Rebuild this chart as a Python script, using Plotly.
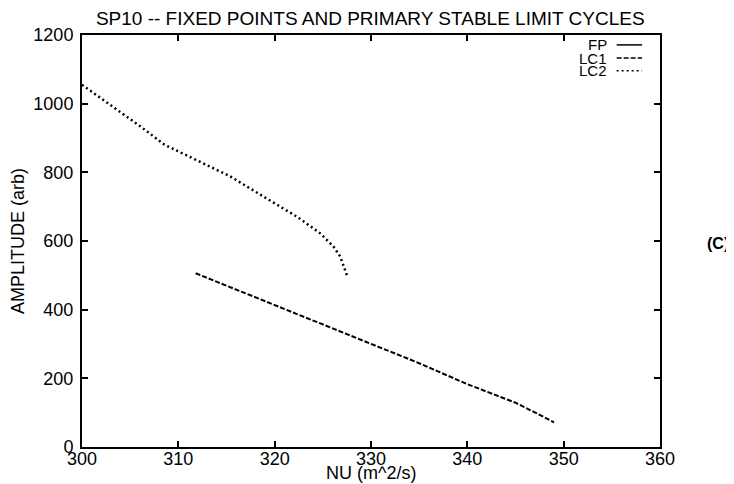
import plotly.graph_objects as go

# ---- data ----
fp_nu = []
fp_amp = []

lc1_nu = [311.8, 315, 320, 325, 330, 335, 340, 343, 345, 347, 349]
lc1_amp = [506, 470, 414, 357, 302, 244, 183, 151, 129, 101, 72]

lc2_nu = [300, 303, 306, 308.6, 310, 312, 315.4, 318.8, 322.3, 324.7, 326.1, 326.8, 327.3, 327.5]
lc2_amp = [1055, 995, 935, 880, 861, 834, 788, 730, 671, 623, 584, 555, 511, 500]

series_names = ["FP", "LC1", "LC2"]
x_ticks = [300, 310, 320, 330, 340, 350, 360]
y_ticks = [0, 200, 400, 600, 800, 1000, 1200]

FONT = "Liberation Sans, Arial, sans-serif"
dashes = {"FP": "solid", "LC1": "5px,2px", "LC2": "2px,3px"}
widths = {"FP": 1.5, "LC1": 2, "LC2": 2.5}

fig = go.Figure()
for name, xs, ys in [("FP", fp_nu, fp_amp), ("LC1", lc1_nu, lc1_amp), ("LC2", lc2_nu, lc2_amp)]:
    fig.add_trace(go.Scatter(x=xs, y=ys, mode="lines", name=name, showlegend=False,
                             line=dict(color="black", width=widths[name], dash=dashes[name])))

axis_common = dict(
    showline=True, linecolor="black", linewidth=2, mirror="ticks",
    ticks="inside", ticklen=6, tickwidth=1.5, tickcolor="black",
    showgrid=False, zeroline=False, automargin=False,
    tickfont=dict(family=FONT, size=18, color="black"),
)

# page body has an 8px margin, so the figure is 8px smaller than the window
fig.update_layout(
    width=726, height=476,
    margin=dict(l=74, r=74, t=27, b=37),
    paper_bgcolor="white", plot_bgcolor="white",
    title=dict(text="SP10 -- FIXED POINTS AND PRIMARY STABLE LIMIT CYCLES",
               x=0.499, xanchor="center", y=0.979, yanchor="middle",
               font=dict(family=FONT, size=19, color="black")),
    xaxis=dict(range=[300, 360], tickvals=x_ticks, ticktext=[str(v) for v in x_ticks],
               ticklabelstandoff=-6, **axis_common),
    yaxis=dict(range=[0, 1200], tickvals=y_ticks, ticktext=[str(v) for v in y_ticks],
               ticklabelstandoff=3,
               title=dict(text="AMPLITUDE (arb)", standoff=5,
                          font=dict(family=FONT, size=18, color="black")),
               **axis_common),
    showlegend=False,
)

# x-axis title sits tight under the tick labels, as in the reference
fig.add_annotation(xref="paper", yref="paper", x=0.5, y=-0.064, text="NU (m^2/s)",
                   showarrow=False, xanchor="center", yanchor="middle",
                   font=dict(family=FONT, size=18, color="black"))

# gnuplot-style key: right-aligned label followed by a line sample
key_y = [0.976, 0.944, 0.913]
for name, ky in zip(series_names, key_y):
    fig.add_annotation(xref="paper", yref="paper", x=0.912, y=ky, text=name,
                       showarrow=False, xanchor="right", yanchor="middle",
                       font=dict(family=FONT, size=15, color="black"))
    fig.add_shape(type="line", xref="paper", yref="paper", x0=0.925, x1=0.969, y0=ky, y1=ky,
                  line=dict(color="black", width=1.5, dash=dashes[name]))

fig.add_annotation(xref="paper", yref="paper", x=1.100, y=0.495, text="<b>(C)</b>",
                   showarrow=False, xanchor="center", yanchor="middle",
                   font=dict(family=FONT, size=16, color="black"))

fig.write_html("out.html")
